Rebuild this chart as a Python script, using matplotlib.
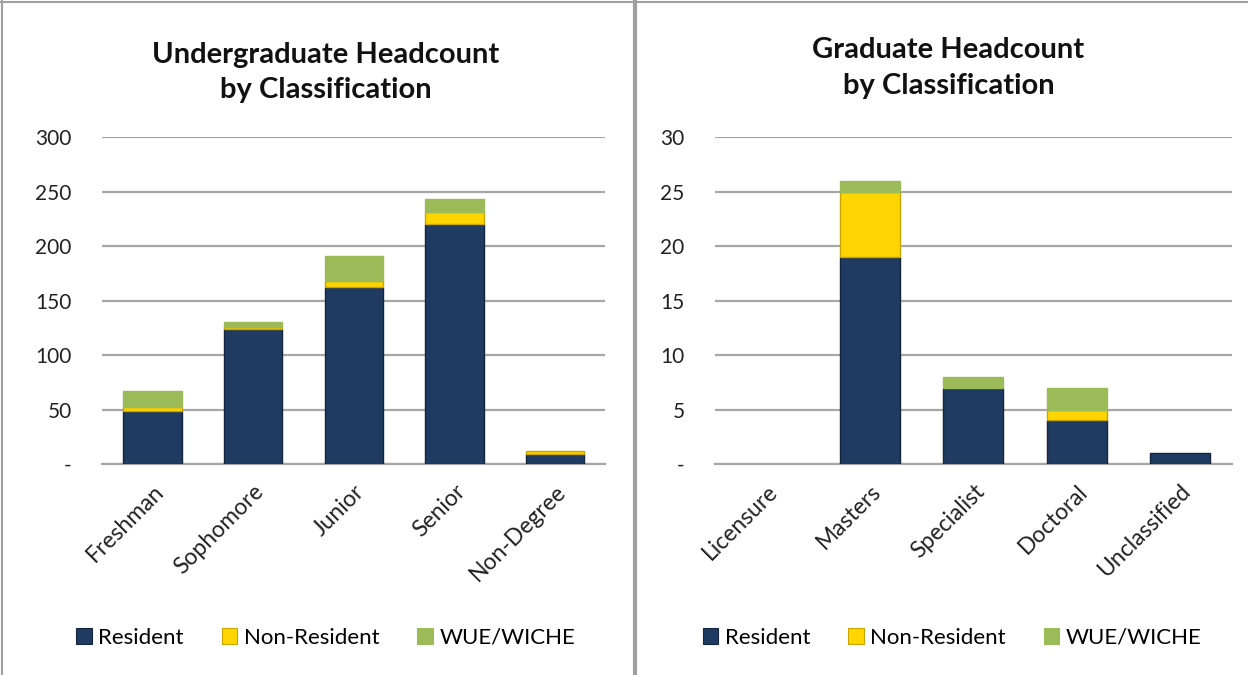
import numpy as np
import matplotlib.pyplot as plt
from matplotlib.lines import Line2D
from matplotlib.patches import Patch

plt.rcParams['font.family'] = ['Lato', 'DejaVu Sans']

# Undergraduate data
ug_classes = ['Freshman', 'Sophomore', 'Junior', 'Senior', 'Non-Degree']
ug_resident = [49, 124, 162, 220, 9]
ug_nonres = [3, 2, 6, 11, 3]
ug_wue = [15, 4, 23, 12, 0]

# Graduate data
gr_classes = ['Licensure', 'Masters', 'Specialist', 'Doctoral', 'Unclassified']
gr_resident = [0, 19, 7, 4, 1]
gr_nonres = [0, 6, 0, 1, 0]
gr_wue = [0, 1, 1, 2, 0]

series_names = ['Resident', 'Non-Resident', 'WUE/WICHE']
colors = ['#1F3B62', '#FFD500', '#9BBB59']
edges = ['#14263F', '#C9A400', '#9BBB59']

fig = plt.figure(figsize=(12.48, 6.75), dpi=100)
fig.patch.set_facecolor('white')

ax1 = fig.add_axes([0.082, 0.3126, 0.403, 0.4844])
ax2 = fig.add_axes([0.573, 0.3126, 0.414, 0.4844])


def draw(ax, cats, res, nr, wue, ymax, step):
    x = np.arange(len(cats))
    res = np.array(res)
    nr = np.array(nr)
    wue = np.array(wue)
    bottom = np.zeros(len(cats))
    for vals, c, e in zip((res, nr, wue), colors, edges):
        lw = [1.0 if v > 0 else 0 for v in vals]
        ax.bar(x, vals, 0.58, bottom=bottom, color=c, edgecolor=e, linewidth=lw, zorder=3)
        bottom = bottom + vals
    ax.set_xlim(-0.5, len(cats) - 0.5)
    ax.set_ylim(0, ymax)
    ticks = np.arange(0, ymax + step, step)
    ax.set_yticks(ticks)
    ax.set_yticklabels(['-'] + [str(int(t)) for t in ticks[1:]], fontsize=15, color='#222222')
    ax.yaxis.grid(True, color='#A6A6A6', linewidth=1.6, zorder=0)
    ax.set_axisbelow(True)
    ax.set_xticks(x)
    ax.set_xticklabels(cats, rotation=45, ha='right', rotation_mode='anchor',
                       fontsize=16.5, color='#222222')
    ax.tick_params(axis='both', length=0)
    ax.tick_params(axis='y', pad=22)
    ax.tick_params(axis='x', pad=12)
    for s in ax.spines.values():
        s.set_visible(False)
    ax.spines['bottom'].set_visible(True)
    ax.spines['bottom'].set_color('#A6A6A6')
    ax.spines['bottom'].set_linewidth(1.6)


draw(ax1, ug_classes, ug_resident, ug_nonres, ug_wue, 300, 50)
draw(ax2, gr_classes, gr_resident, gr_nonres, gr_wue, 30, 5)

fig.text(0.261, 0.893, 'Undergraduate Headcount\nby Classification', ha='center', va='center',
         fontsize=21, fontweight='bold', linespacing=1.45, color='#111111')
fig.text(0.76, 0.899, 'Graduate Headcount\nby Classification', ha='center', va='center',
         fontsize=21, fontweight='bold', linespacing=1.45, color='#111111')

handles = [Patch(facecolor=c, edgecolor=e, linewidth=0.8) for c, e in zip(colors, edges)]
for cx in (0.261, 0.763):
    fig.legend(handles, series_names, loc='center', bbox_to_anchor=(cx, 0.055), ncol=3,
               frameon=False, fontsize=16, handlelength=0.7, handleheight=0.7,
               handletextpad=0.3, columnspacing=1.7)

# panel borders
fig.add_artist(Line2D([0.5085, 0.5085], [0, 1], color='#A0A0A0', linewidth=3, transform=fig.transFigure))
fig.add_artist(Line2D([0.002, 0.002], [0, 1], color='#A0A0A0', linewidth=1.5, transform=fig.transFigure))
fig.add_artist(Line2D([0, 1], [0.997, 0.997], color='#A0A0A0', linewidth=1.5, transform=fig.transFigure))

fig.savefig('out.png', dpi=100)
